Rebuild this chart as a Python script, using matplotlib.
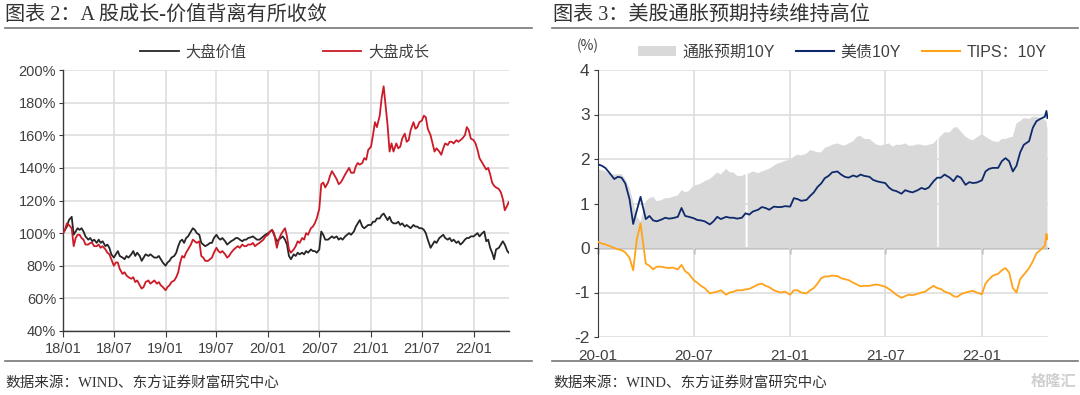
import matplotlib
matplotlib.use('Agg')
import matplotlib.pyplot as plt
from matplotlib.lines import Line2D
from matplotlib.patches import Patch
from matplotlib import font_manager
import numpy as np
import pandas as pd

_names = {f.name for f in font_manager.fontManager.ttflist}
NARROW = 'Liberation Sans Narrow' if 'Liberation Sans Narrow' in _names else 'Liberation Sans'
CJK = 'Noto Sans CJK SC'
plt.rcParams['font.family'] = [NARROW, CJK, 'DejaVu Sans']

# ---------------- Left chart data (index, start = 100%) ----------------
# observations on the 1st, 8th, 15th and 22nd of each month, Jan 2018 - Apr 2022, then May 2022
left_dates = [pd.Timestamp(y, m, d) for y in range(2018, 2023) for m in range(1, 13)
              for d in (1, 8, 15, 22) if (y, m) <= (2022, 4)] + \
             [pd.Timestamp('2022-05-01'), pd.Timestamp('2022-05-06')]
value_large = [  # 大盘价值
    100, 102, 104, 108, 110, 99, 101, 103, 102, 103, 101, 98, 96, 97, 95, 96,
    94, 96, 94, 95, 92, 93, 91, 87, 85, 87, 89, 86, 85, 84, 86, 85,
    87, 89, 86, 88, 86, 83, 85, 87, 86, 87, 86, 85, 85, 86, 84, 82,
    80, 82, 83, 85, 86, 88, 92, 95, 96, 94, 97, 98, 101, 103, 102, 100,
    99, 94, 93, 92, 93, 94, 94, 97, 99, 97, 96, 97, 95, 93, 94, 95,
    96, 97, 97, 96, 95, 96, 96, 97, 97.5, 98, 97, 96, 96, 97, 98, 99,
    100, 101, 102, 99, 95, 96, 97, 98, 96, 93, 86, 84, 87, 86, 88, 87,
    88, 87, 89, 88, 90, 89, 89, 88, 90, 101, 99, 96, 96, 97, 98, 97,
    98, 96, 97, 96, 98, 99, 100, 99, 101, 104, 106, 108, 104, 103, 104, 105,
    105, 107, 107, 109, 109, 111, 112, 110, 108, 110, 107, 106, 106, 107, 105, 106,
    104, 105, 104, 103, 105, 104, 104, 103, 103, 102, 100, 96, 91, 93, 95, 94,
    97, 98, 99, 97, 96, 97, 95, 96, 94, 95, 93, 94, 96, 97, 97, 98,
    98, 99, 100, 98, 100, 101, 95, 96, 91, 88, 84, 90, 91, 93, 95, 93,
    89, 88]
growth_large = [  # 大盘成长
    100, 102, 106, 105, 103, 92, 97, 99, 99, 97, 96, 93, 93, 94, 94, 92,
    92, 93, 91, 92, 90, 88, 87, 84, 80, 82, 82, 78, 75, 76, 74, 73,
    72, 73, 70, 71, 68, 66, 67, 70, 71, 69, 70, 71, 69, 70, 68, 67,
    65, 67, 68, 70, 71, 73, 76, 82, 86, 85, 88, 90, 93, 96, 95, 94,
    95, 86, 85, 83, 83, 84, 85, 88, 91, 89, 88, 89, 87, 85, 86, 88,
    90, 91, 92, 91, 93, 92, 92, 93, 93, 94, 92, 93, 94, 95, 96, 98,
    99, 101, 102, 100, 91, 96, 99, 101, 103, 98, 90, 88, 90, 92, 95, 94,
    97, 96, 100, 99, 103, 104, 106, 109, 115, 130, 131, 128, 131, 135, 138, 136,
    133, 130, 131, 133, 136, 138, 140, 137, 137, 141, 143, 142, 143, 146, 145, 151,
    153, 160, 168, 165, 172, 183, 190, 178, 166, 150, 155, 150, 155, 152, 153, 158,
    161, 156, 157, 163, 168, 164, 165, 168, 169, 172, 171, 164, 160, 155, 150, 152,
    150, 148, 152, 155, 154, 156, 156, 155, 157, 156, 157, 158, 160, 165, 163, 158,
    157, 155, 151, 146, 143, 141, 139, 140, 136, 131, 129, 128, 127, 125, 121, 114,
    117, 119]
left_xticks = ['2018-01-01', '2018-07-01', '2019-01-01', '2019-07-01', '2020-01-01',
               '2020-07-01', '2021-01-01', '2021-07-01', '2022-01-01']
left_xlabels = ['18/01', '18/07', '19/01', '19/07', '20/01', '20/07', '21/01', '21/07', '22/01']
left_yticks = [40, 60, 80, 100, 120, 140, 160, 180, 200]
left_ylabels = ['40%', '60%', '80%', '100%', '120%', '140%', '160%', '180%', '200%']

# ---------------- Right chart data (%) ----------------
# observations on the 1st, 8th, 15th and 22nd of each month, Jan 2020 - Apr 2022, then May 2022
right_dates = [pd.Timestamp(y, m, d) for y in range(2020, 2023) for m in range(1, 13)
               for d in (1, 8, 15, 22) if (y, m) <= (2022, 4)] + \
              [pd.Timestamp('2022-05-01'), pd.Timestamp('2022-05-04'), pd.Timestamp('2022-05-06')]
ust10y = [  # 美债10Y
    1.88, 1.85, 1.80, 1.70,  1.55, 1.60, 1.58, 1.45,  1.10, 0.54, 0.85, 1.15,  0.65, 0.72, 0.62, 0.60,
    0.64, 0.68, 0.66, 0.67,  0.70, 0.90, 0.72, 0.70,  0.67, 0.63, 0.62, 0.60,  0.53, 0.60, 0.70, 0.65,
    0.70, 0.68, 0.68, 0.66,  0.68, 0.78, 0.75, 0.82,  0.86, 0.92, 0.90, 0.86,  0.93, 0.92, 0.92, 0.94,
    0.93, 1.12, 1.10, 1.06,  1.08, 1.17, 1.25, 1.37,  1.45, 1.57, 1.62, 1.70,  1.72, 1.65, 1.60, 1.58,
    1.63, 1.60, 1.65, 1.62,  1.60, 1.53, 1.50, 1.48,  1.46, 1.36, 1.30, 1.28,  1.22, 1.30, 1.27, 1.25,
    1.30, 1.35, 1.32, 1.36,  1.50, 1.58, 1.58, 1.65,  1.58, 1.50, 1.62, 1.58,  1.42, 1.48, 1.46, 1.47,
    1.52, 1.72, 1.78, 1.80,  1.80, 1.95, 2.02, 1.95,  1.72, 1.85, 2.15, 2.32,  2.40, 2.70, 2.85, 2.90,
    2.95, 3.08, 2.92]
tips10y = [  # TIPS: 10Y
    0.14, 0.10, 0.08, 0.05,  0.00, -0.03, -0.05, -0.10,  -0.22, -0.50, 0.20, 0.55,  -0.35, -0.40, -0.48, -0.42,
    -0.42, -0.44, -0.45, -0.44,  -0.48, -0.38, -0.52, -0.58,  -0.72, -0.78, -0.85, -0.90,  -1.02, -1.00, -0.98, -0.95,
    -1.05, -1.00, -0.98, -0.95,  -0.95, -0.93, -0.92, -0.88,  -0.82, -0.80, -0.85, -0.88,  -0.95, -0.98, -1.00, -0.98,
    -1.05, -0.95, -0.95, -1.00,  -1.02, -0.95, -0.90, -0.80,  -0.68, -0.64, -0.64, -0.62,  -0.63, -0.68, -0.70, -0.72,
    -0.78, -0.82, -0.86, -0.85,  -0.85, -0.83, -0.82, -0.84,  -0.87, -0.92, -0.98, -1.05,  -1.12, -1.08, -1.05, -1.06,
    -1.03, -1.00, -0.98, -0.92,  -0.85, -0.90, -0.92, -0.98,  -1.02, -1.08, -1.10, -1.04,  -1.00, -0.98, -0.96, -1.00,
    -1.04, -0.80, -0.70, -0.62,  -0.58, -0.50, -0.45, -0.55,  -0.90, -1.00, -0.70, -0.60,  -0.45, -0.30, -0.12, -0.05,
    0.05, 0.32, 0.20]
bei10y = [  # 通胀预期10Y
    1.76, 1.75, 1.72, 1.68,  1.65, 1.66, 1.66, 1.55,  1.35, 1.05, 0.70, 0.60,  1.05, 1.12, 1.15, 1.05,
    1.08, 1.12, 1.12, 1.15,  1.18, 1.30, 1.25, 1.28,  1.40, 1.42, 1.45, 1.50,  1.55, 1.62, 1.70, 1.65,
    1.78, 1.70, 1.70, 1.62,  1.62, 1.66, 1.68, 1.72,  1.68, 1.72, 1.75, 1.78,  1.85, 1.90, 1.92, 1.96,
    1.98, 2.05, 2.10, 2.08,  2.12, 2.20, 2.18, 2.15,  2.15, 2.25, 2.28, 2.32,  2.35, 2.32, 2.30, 2.35,
    2.40, 2.50, 2.52, 2.45,  2.45, 2.38, 2.32, 2.30,  2.33, 2.35, 2.28, 2.32,  2.32, 2.35, 2.30, 2.30,
    2.33, 2.32, 2.30, 2.32,  2.35, 2.45, 2.52, 2.60,  2.60, 2.70, 2.72, 2.62,  2.50, 2.45, 2.42, 2.48,
    2.56, 2.50, 2.45, 2.40,  2.38, 2.45, 2.45, 2.48,  2.50, 2.80, 2.85, 2.92,  2.90, 2.95, 2.95, 2.92,
    2.88, 2.85, 2.68]
# missing breakeven prints (bond-market holidays) that leave thin white gaps
bei_gap_dates = ['2020-10-11', '2020-10-12', '2021-10-10', '2021-10-11']
bei_gap_values = [np.nan, 1.67, np.nan, 2.47]

right_xticks = ['2020-01-01', '2020-07-01', '2021-01-01', '2021-07-01', '2022-01-01']
right_xlabels = ['20-01', '20-07', '21-01', '21-07', '22-01']
right_yticks = [-2, -1, 0, 1, 2, 3, 4]
right_ylabels = ['-2', '-1', '0', '1', '2', '3', '4']

# ---------------- Styles ----------------
W, H = 1080, 395
DARK = '#3a3a3a'
GRID = '#dedede'
TEXT = '#404040'

fig = plt.figure(figsize=(W / 100, H / 100), dpi=100)


def fx(px):
    return px / W


def fy(py):
    return 1 - py / H


# ---------------- Left axes ----------------
axL = fig.add_axes([fx(63), fy(331), fx(509) - fx(63), fy(70) - fy(331)])
ld = pd.to_datetime(left_dates)
axL.plot(ld, value_large, color='#262626', lw=1.3, label='大盘价值', zorder=3)
axL.plot(ld, growth_large, color='#cc1a26', lw=1.3, label='大盘成长', zorder=3)
axL.set_xlim(pd.Timestamp('2018-01-01'), pd.Timestamp('2022-05-07'))
axL.set_ylim(40, 200)
axL.set_xticks(pd.to_datetime(left_xticks))
axL.set_xticklabels(left_xlabels)
axL.set_yticks(left_yticks)
axL.set_yticklabels(left_ylabels)
axL.grid(True, color=GRID, lw=1.2, zorder=0)
axL.set_axisbelow(True)
for s in ['top', 'right']:
    axL.spines[s].set_visible(False)
for s in ['left', 'bottom']:
    axL.spines[s].set_color(DARK)
    axL.spines[s].set_linewidth(1.0)
axL.tick_params(axis='x', direction='out', length=4, color=DARK, labelsize=10.5,
                labelcolor=TEXT, pad=4)
axL.tick_params(axis='y', direction='out', length=3, color=DARK, labelsize=10.5,
                labelcolor=TEXT, pad=2)
axL.legend(loc='center', bbox_to_anchor=(0.497, 1.07), ncol=2, frameon=False,
           prop={'family': [CJK], 'size': 11}, handlelength=2.5, handletextpad=0.45,
           columnspacing=5.0, borderpad=0, labelcolor=TEXT)

# ---------------- Right axes ----------------
axR = fig.add_axes([fx(598), fy(337), fx(1048) - fx(598), fy(70) - fy(337)])
rd = pd.to_datetime(right_dates)
bei = pd.Series(bei10y + bei_gap_values,
                index=list(rd) + list(pd.to_datetime(bei_gap_dates))).sort_index()
axR.fill_between(bei.index, 0, np.ma.masked_invalid(bei.values.astype(float)),
                 color='#d9d9d9', lw=0, zorder=1)
axR.plot(rd, ust10y, color='#0f2a6b', lw=1.3, zorder=3)
axR.plot(rd, tips10y, color='#ffa31a', lw=1.3, zorder=3)
axR.set_xlim(pd.Timestamp('2020-01-01'), pd.Timestamp('2022-05-07'))
axR.set_ylim(-2, 4)
axR.set_xticks(pd.to_datetime(right_xticks))
axR.set_xticklabels(right_xlabels)
axR.set_yticks(right_yticks)
axR.set_yticklabels(right_ylabels)
axR.grid(True, color=GRID, lw=1.2, zorder=0)
axR.set_axisbelow(True)
for s in ['top', 'right', 'bottom']:
    axR.spines[s].set_visible(False)
axR.spines['left'].set_color(DARK)
axR.tick_params(axis='x', length=0, labelsize=11, labelcolor=TEXT, pad=9)
axR.tick_params(axis='y', direction='out', length=3, color=DARK, labelsize=12.5,
                labelcolor=TEXT, pad=3)
sec = axR.secondary_xaxis(1 / 3)
sec.set_xticks(pd.to_datetime(right_xticks))
sec.set_xticklabels([''] * len(right_xticks))
sec.tick_params(direction='out', length=4, color=DARK, width=1.0)
for s in sec.spines.values():
    s.set_color(DARK)
    s.set_linewidth(1.0)

handles = [Patch(facecolor='#d9d9d9', edgecolor='none'),
           Line2D([], [], color='#0f2a6b', lw=1.5),
           Line2D([], [], color='#ffa31a', lw=1.5)]
axR.legend(handles, ['通胀预期10Y', '美债10Y', 'TIPS：10Y'], loc='center',
           bbox_to_anchor=(0.543, 1.067), ncol=3, frameon=False,
           prop={'family': [NARROW, CJK], 'size': 11.5}, handlelength=2.4, handleheight=0.6,
           handletextpad=0.4, columnspacing=1.3, borderpad=0, labelcolor=TEXT)
fig.text(fx(588), fy(46), '(%)', ha='center', va='center', fontsize=10,
         color=TEXT, family=[CJK])

# ---------------- Titles, rules, source ----------------
fig.text(fx(5), fy(15), '图表 2：A 股成长-价值背离有所收敛', ha='left', va='center',
         fontsize=14.5, color='#333333', family=['Liberation Serif', CJK])
fig.text(fx(553), fy(15), '图表 3：美股通胀预期持续维持高位', ha='left', va='center',
         fontsize=14.5, color='#333333', family=['Liberation Serif', CJK])
for x0, x1 in [(5, 532), (552, 1078)]:
    fig.add_artist(Line2D([fx(x0), fx(x1)], [fy(28), fy(28)], transform=fig.transFigure,
                          color='#777777', lw=1.2))
    fig.add_artist(Line2D([fx(x0), fx(x1)], [fy(361), fy(361)], transform=fig.transFigure,
                          color='#777777', lw=1.2))
fig.text(fx(5), fy(383), '数据来源：WIND、东方证券财富研究中心', ha='left', va='center',
         fontsize=10.5, color='#333333', family=['Liberation Serif', CJK])
fig.text(fx(553), fy(383), '数据来源：WIND、东方证券财富研究中心', ha='left', va='center',
         fontsize=10.5, color='#333333', family=['Liberation Serif', CJK])
fig.text(fx(1076), fy(381), '格隆汇', ha='right', va='center', fontsize=11,
         color='#cfcfcf', family=[CJK], fontweight='bold')

fig.savefig('out.png', dpi=100)
